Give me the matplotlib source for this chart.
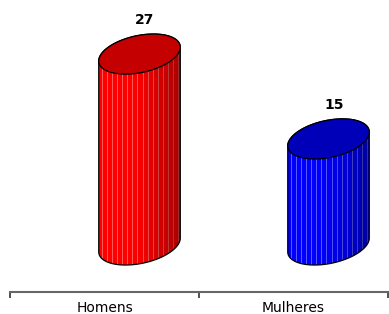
import numpy as np
import matplotlib
matplotlib.use("Agg")
import matplotlib.pyplot as plt
from matplotlib.patches import Polygon

categories = ["Homens", "Mulheres"]
values = [27, 15]
top_colors = ["#c40000", "#0000b8"]
side_light = [(1.0, 0.0, 0.0), (0.0, 0.0, 1.0)]
side_dark = [(0.66, 0.0, 0.0), (0.0, 0.0, 0.62)]

W, H = 389, 314
fig = plt.figure(figsize=(W / 100, H / 100), dpi=100)
ax = fig.add_axes([10 / W, 22 / H, 378 / W, 292 / H])
ax.set_xlim(-0.5, 1.5)
ax.set_ylim(-6.65, 34.65)

# pixels per data unit
sx = 378 / 2.0
sy = 292 / 41.3

# cylinder geometry in pixels
a, b = 41.5, 18.5
th = np.radians(12)
shift = 35 / sx


def ell(cx, cy, t):
    ox = a * np.cos(t) * np.cos(th) - b * np.sin(t) * np.sin(th)
    oy = a * np.cos(t) * np.sin(th) + b * np.sin(t) * np.cos(th)
    return cx + ox / sx, cy + oy / sy


t_r = np.arctan(-b * np.tan(th) / a)
xext = np.sqrt((a * np.cos(th)) ** 2 + (b * np.sin(th)) ** 2)
yext = np.sqrt((a * np.sin(th)) ** 2 + (b * np.cos(th)) ** 2)

for i, v in enumerate(values):
    cx = i + shift
    tb = np.linspace(t_r + np.pi, t_r + 2 * np.pi, 100)
    tt = np.linspace(t_r, t_r + np.pi, 100)
    bx, by = ell(cx, 0, tb)
    tx, ty = ell(cx, v, tt)
    sil = np.column_stack([np.concatenate([bx, tx]), np.concatenate([by, ty])])

    body = Polygon(sil, closed=True, facecolor="none", edgecolor="none")
    ax.add_patch(body)

    # vertical shading with thin light stripes
    n = int(2 * xext)
    u = np.linspace(0, 1, n)
    k = np.clip((u - 0.4) / 0.6, 0, 1) ** 1.2
    lo = np.array(side_light[i])
    hi = np.array(side_dark[i])
    cols = lo[None, :] * (1 - k[:, None]) + hi[None, :] * k[:, None]
    for j in range(3, n, 5):
        cols[j] = cols[j] * 0.65 + np.array([1, 1, 1]) * 0.35 * (1 - 0.5 * k[j])
    img = ax.imshow(cols[None, :, :], extent=[cx - xext / sx, cx + xext / sx,
                                             -yext / sy, v + yext / sy],
                    aspect="auto", interpolation="nearest", zorder=2)
    img.set_clip_path(body)

    ax.add_patch(Polygon(sil, closed=True, facecolor="none", edgecolor="black",
                         linewidth=0.9, zorder=3))
    ex, ey = ell(cx, v, np.linspace(0, 2 * np.pi, 200))
    ax.add_patch(Polygon(np.column_stack([ex, ey]), closed=True,
                         facecolor=top_colors[i], edgecolor="black",
                         linewidth=0.9, zorder=4))

    ax.annotate(str(v), (cx, v), xytext=(4, 24.5), textcoords="offset points",
                ha="center", va="center", fontsize=10, fontweight="bold")

for s in ["top", "left", "right"]:
    ax.spines[s].set_visible(False)
ax.spines["bottom"].set_color("#666666")
ax.spines["bottom"].set_linewidth(1.5)
ax.set_yticks([])
ax.set_xticks([-0.5, 0.5, 1.5])
ax.set_xticklabels([])
ax.set_xticks([0, 1], minor=True)
ax.set_xticklabels(categories, minor=True, fontsize=10)
ax.tick_params(axis="x", which="major", length=4, width=1.2, color="#333333")
ax.tick_params(axis="x", which="minor", length=0, pad=6.5)

fig.savefig("out.png", dpi=100)
